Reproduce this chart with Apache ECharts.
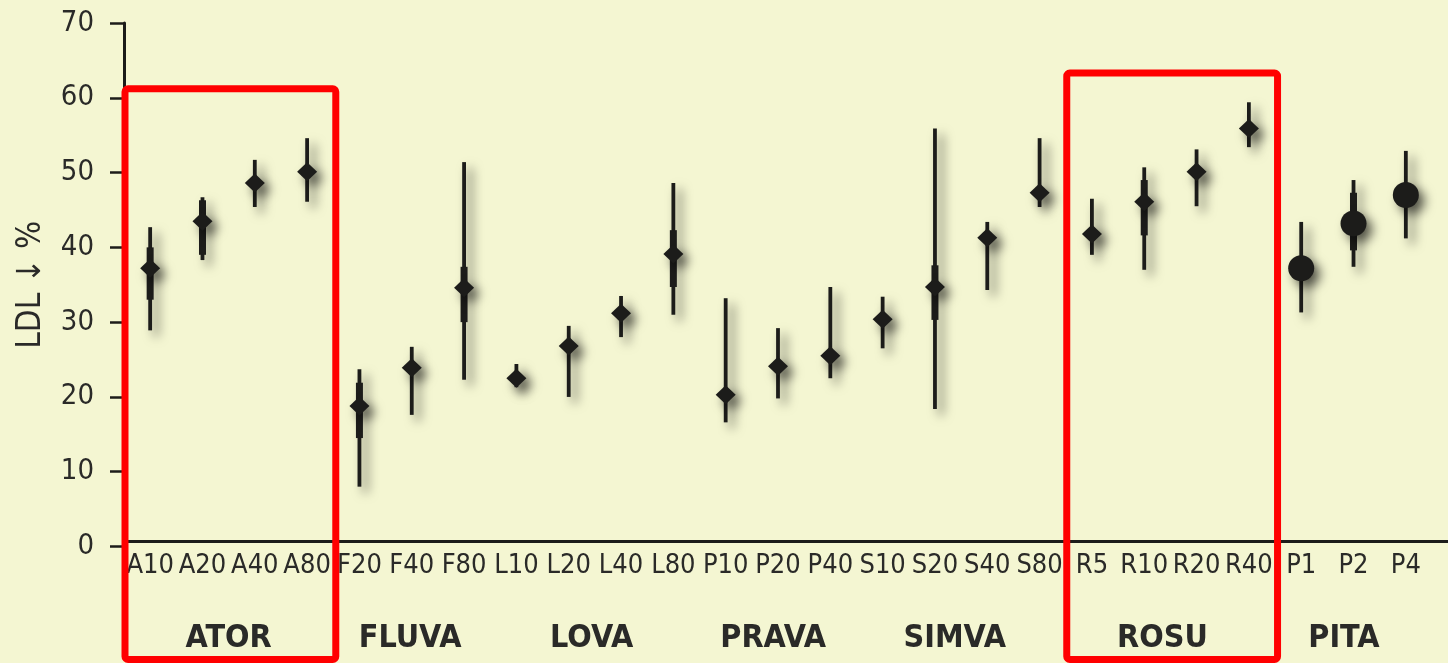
<!DOCTYPE html>
<html>
<head>
<meta charset="utf-8">
<script src="https://cdn.jsdelivr.net/npm/echarts/dist/echarts.min.js"></script>
<style>
  html, body { margin: 0; padding: 0; background: #f4f6d2; }
  #chart { width: 1448px; height: 663px; }
</style>
</head>
<body>
<div id="chart"></div>
<script>
// Dose labels along the x axis
const categories = ['A10','A20','A40','A80','F20','F40','F80','L10','L20','L40','L80',
  'P10','P20','P40','S10','S20','S40','S80','R5','R10','R20','R40','P1','P2','P4'];

// Drug groups, in axis order, with how many doses each covers
const groupNames = ['ATOR','FLUVA','LOVA','PRAVA','SIMVA','ROSU','PITA'];
const groupSizes = [4, 3, 4, 3, 4, 4, 3];

// Mean LDL reduction (%) per dose
const meanValues = [37.2, 43.5, 48.6, 50.1, 18.8, 23.9, 34.6, 22.5, 26.8, 31.2, 39.1,
  20.3, 24.1, 25.5, 30.4, 34.7, 41.3, 47.3, 41.8, 46.1, 50.1, 55.9, 37.2, 43.2, 47.0];
// Full range (thin line)
const rangeLow  = [28.9, 38.3, 45.4, 46.1, 8.0, 17.6, 22.3, 21.3, 20.0, 28.0, 31.0,
  16.6, 19.8, 22.5, 26.5, 18.4, 34.3, 45.4, 39.0, 37.0, 45.5, 53.4, 31.3, 37.4, 41.2];
const rangeHigh = [42.7, 46.7, 51.7, 54.6, 23.7, 26.7, 51.4, 24.4, 29.5, 33.5, 48.6,
  33.2, 29.2, 34.7, 33.4, 55.9, 43.4, 54.6, 46.5, 50.7, 53.1, 59.4, 43.4, 49.0, 52.9];
// Inner range (thick line); null where none is drawn
const innerLow  = [33.0, 39.0, null, null, 14.5, null, 30.0, null, null, null, 34.7,
  null, null, null, null, 30.3, null, null, null, 41.6, null, null, null, 39.6, null];
const innerHigh = [40.0, 46.3, null, null, 21.9, null, 37.4, null, null, null, 42.3,
  null, null, null, null, 37.6, null, null, null, 49.0, null, null, null, 47.3, null];

// Groups outlined in red, with the value at which each outline's top edge sits
const highlighted = [{ group: 'ATOR', top: 61.2 }, { group: 'ROSU', top: 63.3 }];

const yTicks = [0, 10, 20, 30, 40, 50, 60, 70];

const INK = '#1c1c1a';
const TEXT = '#2a2a28';
const FONT = '"Liberation Sans Narrow", "DejaVu Sans Condensed", "Roboto Condensed", "Liberation Sans", sans-serif';
const SHADOW = { shadowColor: 'rgba(0,0,0,0.6)', shadowBlur: 11, shadowOffsetX: 6, shadowOffsetY: 6 };

// group name for each category
const groupOf = [];
groupNames.forEach((g, gi) => { for (let k = 0; k < groupSizes[gi]; k++) groupOf.push(g); });

const whiskerData = categories.map((c, i) => [i, meanValues[i], rangeLow[i], rangeHigh[i], innerLow[i], innerHigh[i]]);
const markerData = categories.map((c, i) => ({
  value: [i, meanValues[i]],
  symbol: groupOf[i] === 'PITA' ? 'circle' : 'diamond',
  symbolSize: groupOf[i] === 'PITA' ? 26 : [20, 19]
}));

const chart = echarts.init(document.getElementById('chart'), null, { renderer: 'canvas' });

const option = {
  backgroundColor: '#f4f6d2',
  animation: false,
  grid: { left: 124, right: 16, top: 23, bottom: 116.5, containLabel: false },
  xAxis: {
    type: 'category',
    data: categories,
    offset: -5,
    axisLine: { lineStyle: { color: INK, width: 3 } },
    axisTick: { inside: true, length: 12, interval: 0, lineStyle: { color: INK, width: 2 } },
    axisLabel: { interval: 0, color: TEXT, fontSize: 27, fontFamily: FONT, margin: 11 }
  },
  yAxis: {
    type: 'value',
    min: yTicks[0],
    max: yTicks[yTicks.length - 1],
    interval: 10,
    splitLine: { show: false },
    axisLine: { show: true, lineStyle: { color: INK, width: 3 } },
    axisTick: { show: true, inside: false, length: 14, lineStyle: { color: INK, width: 2.5 } },
    axisLabel: { color: TEXT, fontSize: 29, fontFamily: FONT, margin: 30 },
    name: 'LDL \u2193 %',
    nameLocation: 'middle',
    nameRotate: 90,
    nameGap: 76,
    nameTextStyle: { color: TEXT, fontSize: 33, fontFamily: FONT }
  },
  series: [
    {
      type: 'custom',
      data: whiskerData,
      renderItem: function (params, api) {
        const i = api.value(0);
        const pLow = api.coord([i, api.value(2)]);
        const pHigh = api.coord([i, api.value(3)]);
        const children = [{
          type: 'line',
          shape: { x1: pLow[0], y1: pLow[1], x2: pHigh[0], y2: pHigh[1] },
          style: Object.assign({ stroke: INK, lineWidth: 3.8, lineCap: 'butt' }, SHADOW)
        }];
        const bl = innerLow[i], bh = innerHigh[i];
        if (bl != null && bh != null) {
          const a = api.coord([i, bl]);
          const b = api.coord([i, bh]);
          children.push({
            type: 'line',
            shape: { x1: a[0], y1: a[1], x2: b[0], y2: b[1] },
            style: { stroke: INK, lineWidth: 7, lineCap: 'butt' }
          });
        }
        return { type: 'group', children: children };
      },
      z: 2
    },
    {
      type: 'scatter',
      data: markerData,
      itemStyle: Object.assign({ color: INK, opacity: 1 }, SHADOW),
      z: 3
    }
  ]
};

chart.setOption(option);

// Group labels, red outlines and the tail of the x axis, placed from the axis scales
function boundaryX(idx) {
  const c0 = chart.convertToPixel({ xAxisIndex: 0 }, categories[0]);
  const c1 = chart.convertToPixel({ xAxisIndex: 0 }, categories[1]);
  const band = c1 - c0;
  return c0 - band / 2 + idx * band;
}
const yZero = chart.convertToPixel({ yAxisIndex: 0 }, 0);
const axisY = yZero - 5;

const graphics = [];
let start = 0;
const groupStart = {};
groupNames.forEach((g, gi) => {
  const end = start + groupSizes[gi];
  groupStart[g] = [start, end];
  graphics.push({
    type: 'text',
    x: (boundaryX(start) + boundaryX(end)) / 2 - gi * 1.6,
    y: 639,
    style: {
      text: g, fill: TEXT, font: 'bold 32px ' + FONT,
      textAlign: 'center', textVerticalAlign: 'middle'
    },
    z: 10
  });
  start = end;
});

highlighted.forEach(h => {
  const [s, e] = groupStart[h.group];
  const x1 = boundaryX(s) + 1;
  const x2 = boundaryX(e) + 2.5;
  const yTop = chart.convertToPixel({ yAxisIndex: 0 }, h.top);
  graphics.push({
    type: 'rect',
    shape: { x: x1, y: yTop, width: x2 - x1, height: 659.5 - yTop, r: 3 },
    style: { fill: null, stroke: '#ff0000', lineWidth: 7 },
    z: 20
  });
});

// x axis line runs on to the right edge
const lastB = boundaryX(categories.length);
graphics.push({
  type: 'line',
  shape: { x1: lastB, y1: axisY, x2: 1448, y2: axisY },
  style: { stroke: INK, lineWidth: 3 },
  z: 5
});

chart.setOption({ graphic: graphics });
</script>
</body>
</html>
